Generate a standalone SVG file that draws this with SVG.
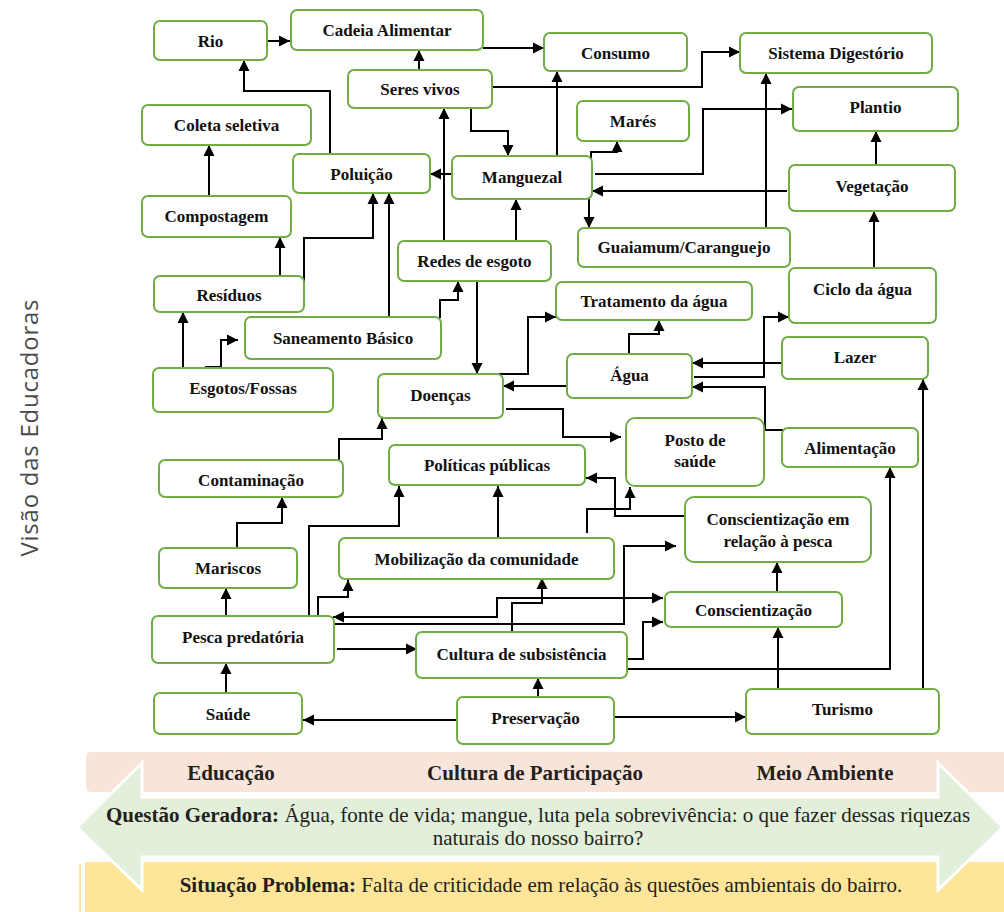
<svg xmlns="http://www.w3.org/2000/svg" width="1004" height="912" viewBox="0 0 1004 912">
<style>
.n rect{fill:#fff;stroke:#70ad47;stroke-width:2}
.n text{font-family:"Liberation Serif","Times New Roman",serif;font-weight:bold;font-size:17px;fill:#111;text-anchor:middle}
.c path{fill:none;stroke:#000;stroke-width:2}
.b{font-family:"Liberation Serif","Times New Roman",serif;font-size:21px;fill:#231f20}
.bb{font-weight:bold}
</style>
<defs>
<marker id="a" markerUnits="userSpaceOnUse" markerWidth="12" markerHeight="12" viewBox="0 0 12 12" refX="11" refY="6" orient="auto-start-reverse"><path d="M0,0.5 L11,6 L0,11.5z" fill="#000"/></marker>
</defs>
<rect width="1004" height="912" fill="#fff"/>
<text transform="translate(38,428) rotate(-90)" text-anchor="middle" font-family="'Open Sans','Noto Sans',sans-serif" font-size="24" textLength="257" fill="#4a4a4a">Visão das Educadoras</text>

<g class="c" id="connectors">
<path d="M267,41 H290" marker-end="url(#a)"/>
<path d="M330,154 V91 H244 V60" marker-end="url(#a)"/>
<path d="M419,70 V50" marker-end="url(#a)"/>
<path d="M209,196 V145" marker-end="url(#a)"/>
<path d="M452,174 H430" marker-end="url(#a)"/>
<path d="M444,241 V108" marker-end="url(#a)"/>
<path d="M516,241 V199" marker-end="url(#a)"/>
<path d="M304,283 V238 H373 V193" marker-end="url(#a)"/>
<path d="M389,317 V193" marker-end="url(#a)"/>
<path d="M280,276 V237" marker-end="url(#a)"/>
<path d="M183,368 V312" marker-end="url(#a)"/>
<path d="M205,367 H221 V340 H238" marker-end="url(#a)"/>
<path d="M339,460 V439 H382 V418" marker-end="url(#a)"/>
<path d="M440,318 V300 H458 V281" marker-end="url(#a)"/>
<path d="M477,281 V374" marker-end="url(#a)"/>
<path d="M498,374 H528 V317 H556" marker-end="url(#a)"/>
<path d="M567,386 H503" marker-end="url(#a)"/>
<path d="M506,409 H563 V437 H621" marker-end="url(#a)"/>
<path d="M629,354 V334 H659 V320" marker-end="url(#a)"/>
<path d="M694,377 H764 V317 H789" marker-end="url(#a)"/>
<path d="M784,363 H692" marker-end="url(#a)"/>
<path d="M790,430 H765 V387 H692" marker-end="url(#a)"/>
<path d="M876,165 V131" marker-end="url(#a)"/>
<path d="M874,268 V211" marker-end="url(#a)"/>
<path d="M787,191 H592" marker-end="url(#a)"/>
<path d="M595,174 H703 V109 H792" marker-end="url(#a)"/>
<path d="M766,228 V73" marker-end="url(#a)"/>
<path d="M492,87 H702 V52 H740" marker-end="url(#a)"/>
<path d="M483,48 H544" marker-end="url(#a)"/>
<path d="M557,156 V71" marker-end="url(#a)"/>
<path d="M471,108 V131 H508 V156" marker-end="url(#a)"/>
<path d="M591,165 V152 H617 V141" marker-end="url(#a)"/>
<path d="M589,199 V228" marker-end="url(#a)"/>
<path d="M237,548 V523 H282 V497" marker-end="url(#a)"/>
<path d="M226,616 V588" marker-end="url(#a)"/>
<path d="M226,693 V663" marker-end="url(#a)"/>
<path d="M457,720 H303" marker-end="url(#a)"/>
<path d="M538,697 V678" marker-end="url(#a)"/>
<path d="M614,717 H746" marker-end="url(#a)"/>
<path d="M337,649 H417" marker-end="url(#a)"/>
<path d="M309,616 V526 H399 V486" marker-end="url(#a)"/>
<path d="M318,616 V597 H348 V580" marker-end="url(#a)"/>
<path d="M333,617 H497 V598 H663" marker-start="url(#a)" marker-end="url(#a)"/>
<path d="M334,624 H624 V546 H676" marker-end="url(#a)"/>
<path d="M512,632 V603 H542 V578" marker-end="url(#a)"/>
<path d="M498,538 V486" marker-end="url(#a)"/>
<path d="M587,533 V509 H630 V487" marker-end="url(#a)"/>
<path d="M684,516 H615 V478 H586" marker-end="url(#a)"/>
<path d="M627,659 H643 V622 H663" marker-end="url(#a)"/>
<path d="M627,669 H890 V467" marker-end="url(#a)"/>
<path d="M778,689 V627" marker-end="url(#a)"/>
<path d="M777,592 V562" marker-end="url(#a)"/>
<path d="M923,689 V379" marker-end="url(#a)"/>
</g>

<g class="n" id="rio"><rect x="154" y="21" width="113" height="39" rx="6"/><text x="210.5" y="46.5">Rio</text></g>
<g class="n" id="cadeia"><rect x="291" y="10" width="192" height="40" rx="6"/><text x="387" y="36">Cadeia Alimentar</text></g>
<g class="n" id="seres"><rect x="348" y="70" width="144" height="38" rx="6"/><text x="420" y="95">Seres vivos</text></g>
<g class="n" id="coleta"><rect x="142" y="105" width="169" height="40" rx="6"/><text x="226.5" y="131">Coleta seletiva</text></g>
<g class="n" id="poluicao"><rect x="293" y="154" width="137" height="39" rx="6"/><text x="361.5" y="180">Poluição</text></g>
<g class="n" id="compostagem"><rect x="142" y="196" width="149" height="41" rx="6"/><text x="216.5" y="222">Compostagem</text></g>
<g class="n" id="manguezal"><rect x="452" y="156" width="140" height="43" rx="6"/><text x="522" y="183">Manguezal</text></g>
<g class="n" id="consumo"><rect x="544" y="33" width="143" height="38" rx="6"/><text x="615.5" y="58.5">Consumo</text></g>
<g class="n" id="mares"><rect x="577" y="101" width="112" height="40" rx="6"/><text x="633" y="127">Marés</text></g>
<g class="n" id="sistema"><rect x="740" y="33" width="192" height="40" rx="6"/><text x="836" y="59">Sistema Digestório</text></g>
<g class="n" id="plantio"><rect x="793" y="87" width="165" height="44" rx="6"/><text x="875.5" y="113">Plantio</text></g>
<g class="n" id="vegetacao"><rect x="789" y="165" width="166" height="46" rx="6"/><text x="872" y="192">Vegetação</text></g>
<g class="n" id="guaiamum"><rect x="578" y="228" width="212" height="39" rx="6"/><text x="684" y="253">Guaiamum/Caranguejo</text></g>
<g class="n" id="redes"><rect x="398" y="241" width="153" height="40" rx="6"/><text x="474.5" y="267">Redes de esgoto</text></g>
<g class="n" id="residuos"><rect x="154" y="276" width="150" height="36" rx="6"/><text x="229" y="300.5">Resíduos</text></g>
<g class="n" id="saneamento"><rect x="245" y="317" width="196" height="42" rx="6"/><text x="343" y="343.5">Saneamento Básico</text></g>
<g class="n" id="esgotos"><rect x="153" y="368" width="180" height="44" rx="6"/><text x="243" y="394">Esgotos/Fossas</text></g>
<g class="n" id="doencas"><rect x="378" y="374" width="125" height="44" rx="6"/><text x="440.5" y="400.5">Doenças</text></g>
<g class="n" id="contaminacao"><rect x="159" y="460" width="184" height="37" rx="6"/><text x="251" y="485.5">Contaminação</text></g>
<g class="n" id="politicas"><rect x="389" y="445" width="196" height="40" rx="6"/><text x="487" y="471">Políticas públicas</text></g>
<g class="n" id="tratamento"><rect x="556" y="282" width="196" height="38" rx="6"/><text x="654" y="307">Tratamento da água</text></g>
<g class="n" id="ciclo"><rect x="789" y="268" width="147" height="55" rx="6"/><text x="862.5" y="295">Ciclo da água</text></g>
<g class="n" id="lazer"><rect x="782" y="337" width="146" height="42" rx="6"/><text x="855" y="363">Lazer</text></g>
<g class="n" id="agua"><rect x="567" y="354" width="125" height="44" rx="6"/><text x="629.5" y="381">Água</text></g>
<g class="n" id="posto"><rect x="626" y="418" width="138" height="68" rx="9"/><text x="695" y="446">Posto de</text><text x="695" y="467">saúde</text></g>
<g class="n" id="alimentacao"><rect x="782" y="428" width="136" height="39" rx="6"/><text x="850" y="454">Alimentação</text></g>
<g class="n" id="conscpesca"><rect x="685" y="497" width="186" height="65" rx="9"/><text x="778" y="525">Conscientização em</text><text x="778" y="547">relação à pesca</text></g>
<g class="n" id="consc"><rect x="665" y="592" width="177" height="35" rx="6"/><text x="753.5" y="616">Conscientização</text></g>
<g class="n" id="turismo"><rect x="746" y="689" width="193" height="45" rx="6"/><text x="842.5" y="714.5">Turismo</text></g>
<g class="n" id="mobilizacao"><rect x="339" y="538" width="275" height="41" rx="6"/><text x="476.5" y="564.5">Mobilização da comunidade</text></g>
<g class="n" id="cultura"><rect x="416" y="632" width="211" height="46" rx="6"/><text x="521.5" y="659.5">Cultura de subsistência</text></g>
<g class="n" id="preservacao"><rect x="457" y="697" width="157" height="47" rx="6"/><text x="535.5" y="723.5">Preservação</text></g>
<g class="n" id="mariscos"><rect x="159" y="548" width="138" height="40" rx="6"/><text x="228" y="574">Mariscos</text></g>
<g class="n" id="pesca"><rect x="152" y="616" width="182" height="47" rx="6"/><text x="243" y="643">Pesca predatória</text></g>
<g class="n" id="saude"><rect x="154" y="693" width="148" height="41" rx="6"/><text x="228" y="719.5">Saúde</text></g>

<g id="banner">
<rect x="86" y="752" width="930" height="40" rx="5" fill="#f9e4d9"/>
<rect x="85" y="862" width="919" height="50" fill="#fee59a"/>
<rect x="79" y="864" width="2" height="48" fill="#fee59a"/>
<polygon points="77,827 142,763 142,797 938,797 938,763 1003,827 938,890 938,857 142,857 142,890" fill="#e2efda" stroke="#fff" stroke-width="3" stroke-linejoin="miter"/>
<text class="b bb" x="231" y="780" text-anchor="middle">Educação</text>
<text class="b bb" x="535" y="780" text-anchor="middle">Cultura de Participação</text>
<text class="b bb" x="825" y="780" text-anchor="middle">Meio Ambiente</text>
<text class="b" x="538" y="822" text-anchor="middle"><tspan class="bb">Questão Geradora:</tspan> Água, fonte de vida; mangue, luta pela sobrevivência: o que fazer dessas riquezas</text>
<text class="b" x="538" y="845" text-anchor="middle">naturais do nosso bairro?</text>
<text class="b" x="541" y="892" text-anchor="middle"><tspan class="bb">Situação Problema:</tspan>  Falta de criticidade em relação às questões ambientais do bairro.</text>
</g>
</svg>
